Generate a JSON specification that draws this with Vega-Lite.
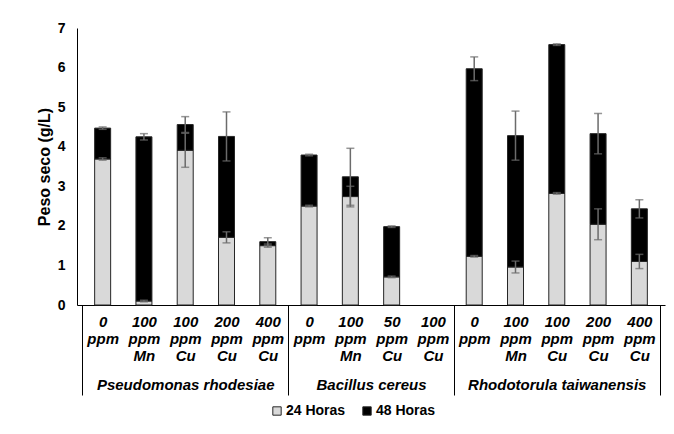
{
  "$schema": "https://vega.github.io/schema/vega-lite/v6.json",
  "width": 588,
  "height": 277,
  "autosize": "none",
  "padding": {"left": 77, "top": 28, "right": 9, "bottom": 129},
  "background": "white",
  "config": {
    "view": {"stroke": null},
    "font": "Liberation Sans",
    "axisY": {
      "grid": false,
      "ticks": false,
      "domainColor": "#000000",
      "labelFont": "Liberation Sans",
      "labelFontSize": 14,
      "labelFontWeight": "bold",
      "labelColor": "#000000",
      "labelPadding": 12,
      "titleFont": "Liberation Sans",
      "titleFontSize": 16,
      "titleFontWeight": "bold",
      "titleColor": "#000000",
      "titlePadding": 5
    }
  },
  "data": {
    "values": [
      {"idx": 0.5, "group": "Pseudomonas rhodesiae", "treat": "0 ppm", "v24": 3.69, "e24": 0.03, "total": 4.47, "e48": 0.03},
      {"idx": 1.5, "group": "Pseudomonas rhodesiae", "treat": "100 ppm Mn", "v24": 0.10, "e24": 0.02, "total": 4.25, "e48": 0.08},
      {"idx": 2.5, "group": "Pseudomonas rhodesiae", "treat": "100 ppm Cu", "v24": 3.91, "e24": 0.43, "total": 4.56, "e48": 0.20},
      {"idx": 3.5, "group": "Pseudomonas rhodesiae", "treat": "200 ppm Cu", "v24": 1.71, "e24": 0.14, "total": 4.26, "e48": 0.62},
      {"idx": 4.5, "group": "Pseudomonas rhodesiae", "treat": "400 ppm Cu", "v24": 1.50, "e24": 0.04, "total": 1.60, "e48": 0.10},
      {"idx": 5.5, "group": "Bacillus cereus", "treat": "0 ppm", "v24": 2.50, "e24": 0.02, "total": 3.79, "e48": 0.02},
      {"idx": 6.5, "group": "Bacillus cereus", "treat": "100 ppm Mn", "v24": 2.74, "e24": 0.26, "total": 3.24, "e48": 0.72},
      {"idx": 7.5, "group": "Bacillus cereus", "treat": "50 ppm Cu", "v24": 0.71, "e24": 0.02, "total": 1.98, "e48": 0.02},
      {"idx": 8.5, "group": "Bacillus cereus", "treat": "100 ppm Cu", "v24": null, "e24": null, "total": null, "e48": null},
      {"idx": 9.5, "group": "Rhodotorula taiwanensis", "treat": "0 ppm", "v24": 1.23, "e24": 0.02, "total": 5.97, "e48": 0.30},
      {"idx": 10.5, "group": "Rhodotorula taiwanensis", "treat": "100 ppm Mn", "v24": 0.96, "e24": 0.15, "total": 4.28, "e48": 0.62},
      {"idx": 11.5, "group": "Rhodotorula taiwanensis", "treat": "100 ppm Cu", "v24": 2.82, "e24": 0.02, "total": 6.58, "e48": 0.02},
      {"idx": 12.5, "group": "Rhodotorula taiwanensis", "treat": "200 ppm Cu", "v24": 2.04, "e24": 0.39, "total": 4.33, "e48": 0.51},
      {"idx": 13.5, "group": "Rhodotorula taiwanensis", "treat": "400 ppm Cu", "v24": 1.10, "e24": 0.18, "total": 2.43, "e48": 0.23}
    ]
  },
  "transform": [{"filter": "isValid(datum.v24)"}],
  "resolve": {"axis": {"x": "independent"}},
  "layer": [
    {
      "mark": {"type": "bar", "orient": "vertical", "size": 16, "stroke": "#262626", "strokeWidth": 1},
      "encoding": {
        "x": {
          "field": "idx", "type": "quantitative",
          "scale": {"domain": [0, 14], "nice": false, "zero": false},
          "axis": {
            "orient": "bottom",
            "values": [0.5, 1.5, 2.5, 3.5, 4.5, 5.5, 6.5, 7.5, 8.5, 9.5, 10.5, 11.5, 12.5, 13.5],
            "labelExpr": "split(['0 ppm','100 ppm Mn','100 ppm Cu','200 ppm Cu','400 ppm Cu','0 ppm','100 ppm Mn','50 ppm Cu','100 ppm Cu','0 ppm','100 ppm Mn','100 ppm Cu','200 ppm Cu','400 ppm Cu'][floor(datum.value)], ' ')",
            "title": null,
            "grid": false,
            "ticks": false,
            "domain": true,
            "domainColor": "#000000",
            "domainWidth": 1,
            "labelFont": "Liberation Sans",
            "labelFontSize": 15,
            "labelFontWeight": "bold",
            "labelFontStyle": "italic",
            "labelColor": "#000000",
            "labelLineHeight": 17,
            "labelBaseline": "top",
            "labelPadding": 9,
            "labelOverlap": false,
            "labelFlush": false
          }
        },
        "y": {
          "field": "v24", "type": "quantitative", "stack": null,
          "scale": {"domain": [0, 7], "nice": false},
          "axis": {"values": [0, 1, 2, 3, 4, 5, 6, 7], "title": "Peso seco (g/L)"}
        },
        "y2": {"datum": 0},
        "color": {
          "datum": "24 Horas",
          "scale": {"domain": ["24 Horas", "48 Horas"], "range": ["#d9d9d9", "#000000"]},
          "legend": {
            "title": null,
            "orient": "none",
            "direction": "horizontal",
            "legendX": 193,
            "legendY": 376,
            "symbolType": "square",
            "symbolSize": 70,
            "symbolStrokeColor": "#262626",
            "symbolStrokeWidth": 1,
            "labelFont": "Liberation Sans",
            "labelFontSize": 14,
            "labelFontWeight": "bold",
            "labelColor": "#000000",
            "labelOffset": 2,
            "columnPadding": 14
          }
        }
      }
    },
    {
      "mark": {"type": "bar", "orient": "vertical", "size": 16, "stroke": "#262626", "strokeWidth": 1},
      "encoding": {
        "x": {"field": "idx", "type": "quantitative", "axis": null},
        "y": {"field": "v24", "type": "quantitative", "stack": null, "axis": {"values": [0, 1, 2, 3, 4, 5, 6, 7], "title": "Peso seco (g/L)"}},
        "y2": {"field": "total"},
        "color": {"datum": "48 Horas"}
      }
    },
    {
      "mark": {"type": "errorbar", "ticks": {"size": 8}, "color": "#6b6b6b", "thickness": 1.5},
      "encoding": {
        "x": {
          "field": "idx", "type": "quantitative",
          "axis": {
            "orient": "bottom",
            "values": [0, 5, 9, 14],
            "labels": false,
            "domain": false,
            "grid": false,
            "ticks": true,
            "tickSize": 90,
            "tickColor": "#000000",
            "tickWidth": 1,
            "title": null
          }
        },
        "y": {"field": "v24", "type": "quantitative", "axis": {"values": [0, 1, 2, 3, 4, 5, 6, 7], "title": "Peso seco (g/L)"}},
        "yError": {"field": "e24"}
      }
    },
    {
      "mark": {"type": "errorbar", "ticks": {"size": 8}, "color": "#6b6b6b", "thickness": 1.5},
      "encoding": {
        "x": {
          "field": "idx", "type": "quantitative",
          "axis": {
            "orient": "bottom",
            "values": [2.5, 7, 11.5],
            "labelExpr": "datum.value < 4 ? 'Pseudomonas rhodesiae' : (datum.value < 9 ? 'Bacillus cereus' : 'Rhodotorula taiwanensis')",
            "domain": false,
            "grid": false,
            "ticks": false,
            "labelFont": "Liberation Sans",
            "labelFontSize": 15,
            "labelFontWeight": "bold",
            "labelFontStyle": "italic",
            "labelColor": "#000000",
            "labelBaseline": "middle",
            "labelPadding": 79,
            "labelOverlap": false,
            "title": null
          }
        },
        "y": {"field": "total", "type": "quantitative", "axis": {"values": [0, 1, 2, 3, 4, 5, 6, 7], "title": "Peso seco (g/L)"}},
        "yError": {"field": "e48"}
      }
    }
  ]
}
